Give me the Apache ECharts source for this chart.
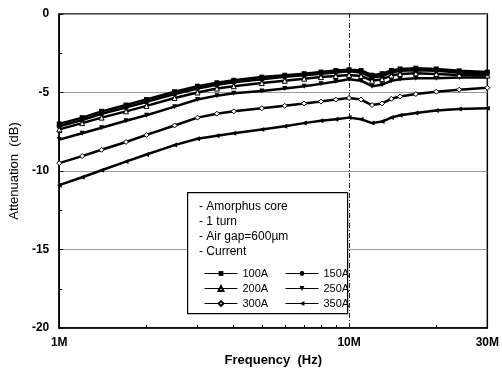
<!DOCTYPE html>
<html>
<head>
<meta charset="utf-8">
<script src="https://cdn.jsdelivr.net/npm/echarts@6/dist/echarts.min.js"></script>
<style>
  html, body { margin: 0; padding: 0; background: #fff; }
  #chart { width: 502px; height: 374px; }
</style>
</head>
<body>
<div id="chart"></div>
<script>
// frequency in MHz
const freq = [1, 1.2, 1.4, 1.7, 2, 2.5, 3, 3.5, 4, 5, 6, 7, 8, 9, 10, 11, 12, 13, 14, 15, 17, 20, 24, 30];

const a100 = [-7.0, -6.6, -6.2, -5.8, -5.45, -4.95, -4.6, -4.38, -4.22, -4.02, -3.9, -3.8, -3.7, -3.6, -3.55, -3.6, -3.9, -3.8, -3.6, -3.5, -3.45, -3.5, -3.62, -3.7];
const a150 = [-7.15, -6.75, -6.35, -5.95, -5.6, -5.1, -4.75, -4.5, -4.35, -4.15, -4.0, -3.9, -3.8, -3.72, -3.65, -3.72, -4.05, -3.95, -3.72, -3.62, -3.58, -3.62, -3.72, -3.8];
const a200 = [-7.35, -6.95, -6.6, -6.2, -5.85, -5.35, -5.0, -4.75, -4.6, -4.4, -4.25, -4.12, -4.02, -3.95, -3.88, -3.95, -4.25, -4.15, -3.92, -3.82, -3.78, -3.82, -3.88, -3.92];
const a250 = [-8.0, -7.6, -7.25, -6.8, -6.45, -5.9, -5.45, -5.2, -5.05, -4.9, -4.75, -4.6, -4.45, -4.3, -4.15, -4.25, -4.6, -4.5, -4.25, -4.15, -4.1, -4.1, -4.05, -4.05];
const a300 = [-9.5, -9.05, -8.65, -8.15, -7.7, -7.1, -6.6, -6.35, -6.2, -6.0, -5.85, -5.7, -5.58, -5.45, -5.35, -5.45, -5.8, -5.7, -5.4, -5.25, -5.1, -4.95, -4.82, -4.7];
const a350 = [-10.9, -10.4, -9.95, -9.4, -8.95, -8.35, -7.95, -7.75, -7.6, -7.35, -7.15, -6.95, -6.8, -6.7, -6.6, -6.7, -6.95, -6.85, -6.6, -6.45, -6.3, -6.15, -6.05, -6.0];

const xLabelValues = [1, 10, 30];
const xTickValues = [1, 2, 3, 4, 5, 6, 7, 8, 9, 10, 20, 30];
const noteLines = ["- Amorphus core", "- 1 turn", "- Air gap=600\u00b5m", "- Current"];

const FONT = "Liberation Sans, Arial, sans-serif";

const seriesDefs = [
  { name: "100A", data: a100, symbol: "rect", rotate: 0, open: false },
  { name: "150A", data: a150, symbol: "circle", rotate: 0, open: false },
  { name: "200A", data: a200, symbol: "triangle", rotate: 0, open: true },
  { name: "250A", data: a250, symbol: "triangle", rotate: 180, open: false },
  { name: "300A", data: a300, symbol: "diamond", rotate: 0, open: true },
  { name: "350A", data: a350, symbol: "triangle", rotate: 90, open: false },
];

const series = seriesDefs.map((d, i) => ({
  name: d.name,
  type: "line",
  data: freq.map((f, k) => [f, d.data[k]]),
  symbol: d.symbol,
  symbolRotate: d.rotate,
  symbolSize: 5,
  showSymbol: true,
  lineStyle: { color: "#000", width: 2.5 },
  itemStyle: {
    color: d.open ? "#fff" : "#000",
    borderColor: "#000",
    borderWidth: d.open ? 1 : 0,
  },
  z: 10 - i,
  animation: false,
}));

// vertical dash-dot line at 10M
series.push({
  name: "grid10M",
  type: "line",
  data: [],
  silent: true,
  z: 1,
  markLine: {
    silent: true,
    symbol: "none",
    label: { show: false },
    lineStyle: { color: "#222", width: 1, type: [5, 2, 1, 2] },
    data: [{ xAxis: 10 }],
  },
});

const chart = echarts.init(document.getElementById("chart"));

const legendBase = {
  orient: "vertical",
  top: 263,
  itemWidth: 33, itemHeight: 6, itemGap: 4,
  textStyle: { fontFamily: FONT, fontSize: 11, color: "#000" },
  lineStyle: { width: 1 },
  z: 20,
};

chart.setOption({
  animation: false,
  backgroundColor: "#fff",
  grid: {
    left: 55, right: 11, top: 14, bottom: 46,
    show: true, borderColor: "#000", borderWidth: 1.5,
  },
  xAxis: {
    type: "log",
    logBase: 10,
    min: 1,
    max: 30,
    name: "Frequency  (Hz)",
    nameLocation: "middle",
    nameGap: 26,
    nameTextStyle: { fontFamily: FONT, fontSize: 13, fontWeight: "bold", color: "#000" },
    axisLine: { onZero: false, lineStyle: { color: "#000", width: 1.5 } },
    axisTick: { show: true, inside: true, length: 3, customValues: xTickValues, lineStyle: { color: "#000", width: 1 } },
    axisLabel: {
      customValues: xLabelValues,
      formatter: (v) => Math.round(v) + "M",
      fontFamily: FONT, fontSize: 12, fontWeight: "bold", color: "#000", margin: 9,
    },
    splitLine: { show: false },
    minorTick: { show: false },
  },
  yAxis: {
    type: "value",
    min: -20,
    max: 0,
    interval: 5,
    name: "Attenuation  (dB)",
    nameLocation: "middle",
    nameGap: 36,
    nameTextStyle: { fontFamily: FONT, fontSize: 13, color: "#000" },
    axisLine: { show: true, lineStyle: { color: "#000", width: 1.5 } },
    axisTick: { show: true, inside: true, length: 4, lineStyle: { color: "#000" } },
    minorTick: { show: true, splitNumber: 2, length: 3, lineStyle: { color: "#000" } },
    axisLabel: { fontFamily: FONT, fontSize: 12, fontWeight: "bold", color: "#000", margin: 10 },
    splitLine: { show: true, lineStyle: { color: "#999", width: 1 } },
  },
  legend: [
    Object.assign({ data: ["100A", "200A", "300A"], left: 199 }, legendBase),
    Object.assign({ data: ["150A", "250A", "350A"], left: 280 }, legendBase),
  ],
  graphic: [
    {
      type: "rect",
      left: 187, top: 192,
      shape: { width: 160, height: 121 },
      style: { fill: "#fff", stroke: "#000", lineWidth: 1.2 },
      z: 15,
    },
    ...noteLines.map((t, i) => ({
      type: "text",
      left: 199, top: 201 + i * 15,
      style: { text: t, font: "12px " + FONT, fill: "#000" },
      z: 16,
    })),
  ],
  series,
});
</script>
</body>
</html>
